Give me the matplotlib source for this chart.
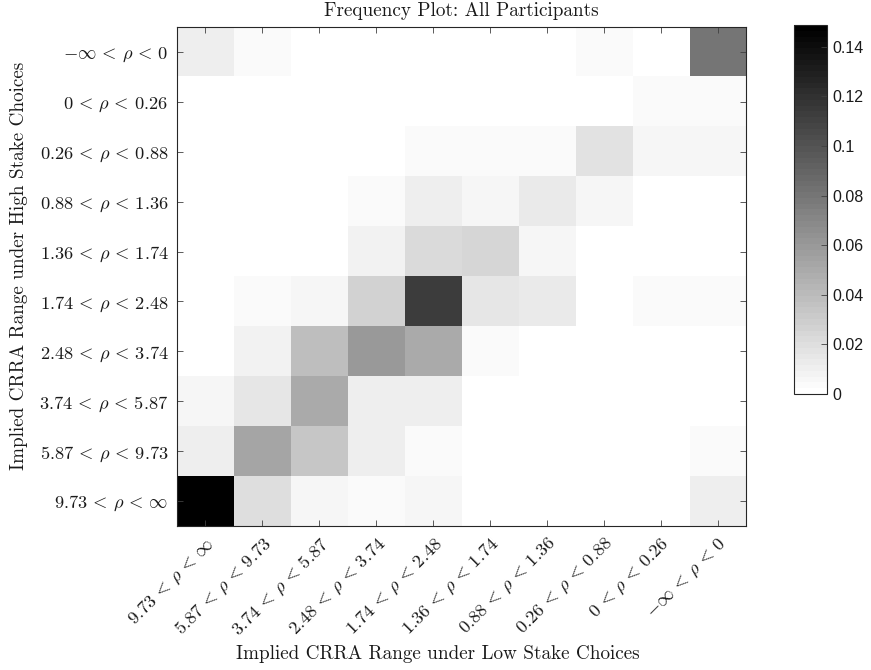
import numpy as np
import matplotlib
matplotlib.use("Agg")
import matplotlib.pyplot as plt

plt.rcParams['mathtext.fontset'] = 'cm'
plt.rcParams['font.family'] = 'cmr10'
plt.rcParams['axes.formatter.use_mathtext'] = True

# CRRA ranges (rows: high stake, top to bottom; cols: low stake, left to right)
row_labels = [r"$-\infty \,<\, \rho \,<\, 0$", r"$0 \,<\, \rho \,<\, 0.26$",
              r"$0.26 \,<\, \rho \,<\, 0.88$", r"$0.88 \,<\, \rho \,<\, 1.36$",
              r"$1.36 \,<\, \rho \,<\, 1.74$", r"$1.74 \,<\, \rho \,<\, 2.48$",
              r"$2.48 \,<\, \rho \,<\, 3.74$", r"$3.74 \,<\, \rho \,<\, 5.87$",
              r"$5.87 \,<\, \rho \,<\, 9.73$", r"$9.73 \,<\, \rho \,<\, \infty$"]
col_labels = [r"$9.73 \,<\, \rho \,<\, \infty$", r"$5.87 \,<\, \rho \,<\, 9.73$",
              r"$3.74 \,<\, \rho \,<\, 5.87$", r"$2.48 \,<\, \rho \,<\, 3.74$",
              r"$1.74 \,<\, \rho \,<\, 2.48$", r"$1.36 \,<\, \rho \,<\, 1.74$",
              r"$0.88 \,<\, \rho \,<\, 1.36$", r"$0.26 \,<\, \rho \,<\, 0.88$",
              r"$0 \,<\, \rho \,<\, 0.26$", r"$-\infty \,<\, \rho \,<\, 0$"]

# frequencies
row_neg_inf_0 = [0.0111, 0.0035, 0, 0, 0, 0, 0, 0.0035, 0, 0.0794]
row_0_026     = [0, 0, 0, 0, 0, 0, 0, 0, 0.0035, 0.0035]
row_026_088   = [0, 0, 0, 0, 0.0029, 0.0029, 0.0029, 0.0181, 0.0064, 0.0064]
row_088_136   = [0, 0, 0, 0.0035, 0.0111, 0.0047, 0.0134, 0.0064, 0, 0]
row_136_174   = [0, 0, 0, 0.0070, 0.0216, 0.0239, 0.0064, 0, 0, 0]
row_174_248   = [0, 0.0035, 0.0064, 0.0274, 0.1132, 0.0152, 0.0134, 0, 0.0035, 0.0035]
row_248_374   = [0, 0.0082, 0.0391, 0.0584, 0.0496, 0.0035, 0, 0, 0, 0]
row_374_587   = [0.0058, 0.0146, 0.0496, 0.0099, 0.0099, 0, 0, 0, 0, 0]
row_587_973   = [0.0105, 0.0531, 0.0333, 0.0105, 0.0029, 0, 0, 0, 0, 0.0035]
row_973_inf   = [0.1488, 0.0204, 0.0058, 0.0035, 0.0064, 0, 0, 0, 0, 0.0111]

freq = np.array([row_neg_inf_0, row_0_026, row_026_088, row_088_136, row_136_174,
                 row_174_248, row_248_374, row_374_587, row_587_973, row_973_inf])

fig = plt.figure(figsize=(8.71, 6.70), dpi=100)
ax = fig.add_axes([0.2032, 0.2149, 0.6533, 0.7448])
cmap = plt.get_cmap('gray_r', 64)
im = ax.imshow(freq, cmap=cmap, vmin=0, vmax=freq.max(), aspect='auto',
               interpolation='nearest')

ax.set_xticks(range(len(col_labels)))
ax.set_yticks(range(len(row_labels)))
ax.set_xticklabels(col_labels, rotation=45, ha='right', rotation_mode='anchor', fontsize=13.3)
ax.set_yticklabels(row_labels, fontsize=13.3)
ax.tick_params(direction='in', top=True, right=True, length=4, width=0.6, color='#404040',
               labelcolor='#1a1a1a')
ax.tick_params(axis='y', pad=6)
ax.tick_params(axis='x', pad=6)
for s in ax.spines.values():
    s.set_linewidth(0.8)
    s.set_color('#262626')

ax.set_xlabel("Implied CRRA Range under Low Stake Choices", fontsize=13.8, color='#1a1a1a')
ax.set_ylabel("Implied CRRA Range under High Stake Choices", fontsize=13.8, color='#1a1a1a')
ax.xaxis.set_label_coords(0.459, -0.238)
ax.yaxis.set_label_coords(-0.262, 0.521)
ax.set_title("Frequency Plot: All Participants", fontsize=13.8, pad=8, color='#1a1a1a')

cax = fig.add_axes([0.9116, 0.412, 0.0379, 0.5507])
cb = fig.colorbar(im, cax=cax)
cb.set_ticks([0, 0.02, 0.04, 0.06, 0.08, 0.1, 0.12, 0.14])
cb.set_ticklabels(['0', '0.02', '0.04', '0.06', '0.08', '0.1', '0.12', '0.14'])
cax.tick_params(direction='in', length=4, width=0.6, labelsize=11.5, color='#404040',
                labelcolor='#1a1a1a')
for t in cax.get_yticklabels():
    t.set_family('Liberation Sans')
cb.outline.set_linewidth(0.8)
cb.outline.set_edgecolor('#262626')

fig.savefig("out.png", dpi=100)
